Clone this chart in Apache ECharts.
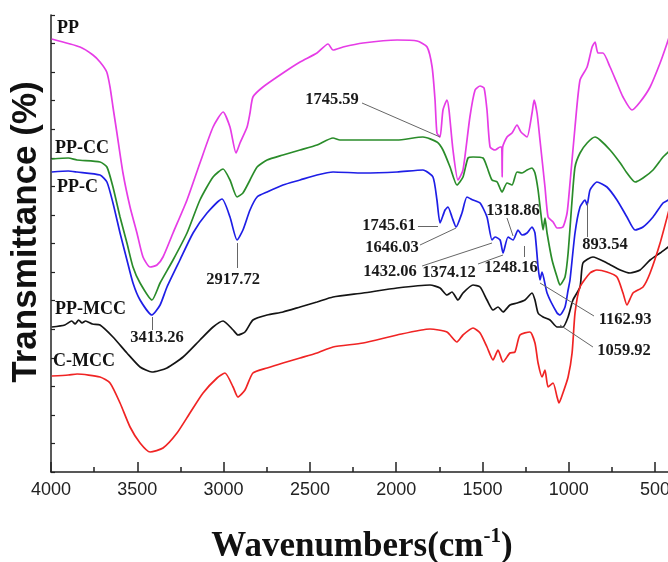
<!DOCTYPE html>
<html>
<head>
<meta charset="utf-8">
<script src="https://cdn.jsdelivr.net/npm/echarts@6/dist/echarts.min.js"></script>
<style>html,body{margin:0;padding:0;background:#fff;}#c{width:668px;height:562px;}</style>
</head>
<body>
<div id="c"></div>
<script>
// Wavenumber (cm-1) vs. transmittance (arbitrary offset units)
const seriesNames = ['PP', 'PP-CC', 'PP-C', 'PP-MCC', 'C-MCC'];

const ppData = [[3996,433],[3832,425],[3757,417],[3716,410],[3677,400],[3658,385],[3641,365],[3618,339],[3583,299],[3542,265],[3502,239],[3467,215],[3426,205],[3386,207],[3351,215],[3293,239],[3212,272],[3137,309],[3061,345],[3003,360],[2963,345],[2928,319],[2905,329],[2864,345],[2847,359],[2830,375],[2772,385],[2656,399],[2557,410],[2459,419],[2395,428],[2366,422],[2308,425],[2192,429],[1995,432],[1879,431],[1821,425],[1792,405],[1775,372],[1764,339],[1746,335],[1729,362],[1706,372],[1694,362],[1671,322],[1642,292],[1613,302],[1573,355],[1543,382],[1514,386],[1491,384],[1474,362],[1456,325],[1427,322],[1398,325],[1389,325],[1386,295],[1383,325],[1358,335],[1329,339],[1300,347],[1277,340],[1242,335],[1213,359],[1201,372],[1184,359],[1167,332],[1138,285],[1120,255],[1091,250],[1068,244],[1034,245],[1010,259],[993,289],[964,345],[935,392],[894,405],[865,425],[848,430],[831,419],[802,419],[761,405],[721,389],[686,375],[634,362],[587,370],[529,385],[471,409],[430,429],[400,445]];

const ppccData = [[3996,313],[3900,314],[3849,312],[3716,310],[3676,305],[3641,285],[3600,255],[3560,229],[3525,205],[3484,189],[3415,172],[3368,189],[3293,212],[3212,239],[3137,272],[3061,295],[3003,303],[2963,292],[2922,275],[2888,279],[2847,292],[2806,305],[2748,312],[2656,317],[2557,322],[2459,327],[2366,334],[2326,332],[2192,332],[1995,332],[1845,335],[1764,330],[1729,322],[1688,305],[1648,287],[1613,295],[1584,314],[1555,315],[1497,314],[1474,305],[1445,292],[1415,290],[1387,280],[1358,289],[1329,287],[1300,300],[1271,299],[1242,302],[1213,304],[1196,299],[1178,282],[1161,257],[1149,242],[1138,254],[1126,239],[1097,212],[1068,195],[1051,187],[1022,195],[1004,219],[981,272],[964,305],[935,319],[894,329],[848,335],[819,332],[761,322],[702,309],[663,299],[616,290],[570,294],[512,302],[454,315],[424,320],[400,325]];

const ppcData = [[3996,300],[3900,301],[3849,300],[3716,297],[3676,290],[3641,269],[3600,239],[3560,212],[3525,189],[3484,172],[3415,157],[3368,167],[3328,185],[3253,212],[3177,239],[3096,259],[3009,273],[2963,255],[2922,232],[2888,242],[2847,262],[2806,275],[2748,280],[2656,287],[2557,292],[2459,297],[2366,300],[2192,299],[1995,300],[1845,302],[1787,295],[1764,272],[1746,249],[1717,262],[1700,265],[1677,255],[1653,245],[1619,259],[1590,275],[1555,272],[1514,269],[1474,255],[1445,232],[1427,235],[1398,232],[1381,219],[1352,235],[1323,232],[1294,242],[1271,237],[1242,239],[1213,245],[1196,239],[1178,205],[1167,192],[1155,200],[1126,179],[1068,159],[1051,157],[1022,165],[1004,182],[993,192],[964,239],[935,265],[906,272],[894,267],[877,282],[837,290],[779,285],[721,272],[663,255],[616,242],[570,245],[512,255],[454,269],[424,272],[400,276]];

const ppmccData = [[3996,145],[3920,147],[3880,151],[3860,148],[3840,152],[3820,149],[3800,151],[3760,148],[3716,147],[3641,135],[3560,119],[3484,105],[3415,100],[3328,104],[3235,115],[3137,132],[3061,145],[3003,151],[2945,142],[2917,137],[2876,140],[2830,152],[2748,157],[2656,160],[2557,165],[2459,170],[2366,175],[2192,179],[1995,184],[1804,187],[1746,184],[1706,177],[1677,180],[1642,172],[1613,179],[1555,187],[1514,185],[1474,172],[1439,162],[1410,165],[1381,160],[1341,167],[1300,169],[1254,172],[1213,179],[1196,172],[1178,159],[1149,155],[1109,152],[1068,145],[1034,145],[1004,155],[976,172],[935,185],[918,209],[860,215],[779,209],[702,202],[645,199],[587,202],[529,212],[471,219],[424,225],[400,228]];

const cmccData = [[3996,96],[3900,97],[3849,98],[3716,95],[3658,89],[3600,69],[3542,45],[3484,29],[3426,20],[3351,24],[3270,39],[3195,59],[3119,79],[3038,94],[2992,99],[2945,85],[2917,75],[2876,82],[2830,99],[2748,104],[2656,109],[2557,114],[2459,119],[2366,125],[2192,129],[1995,137],[1804,143],[1706,140],[1648,130],[1613,137],[1555,144],[1514,139],[1474,125],[1439,112],[1410,122],[1381,110],[1341,119],[1312,120],[1283,137],[1225,140],[1196,129],[1178,109],[1155,95],[1138,102],[1120,85],[1091,89],[1068,75],[1057,69],[1034,79],[1004,95],[981,119],[964,159],[935,185],[877,199],[837,202],[779,200],[721,195],[686,179],[663,167],[628,179],[570,185],[529,199],[471,229],[424,259],[400,275]];

const seriesData = [ppData, ppccData, ppcData, ppmccData, cmccData];
const seriesColors = ['#e63ce6', '#2a8c2a', '#1e1ee6', '#141414', '#f02424'];

// series name labels (anchor = left edge of text)
const nameLabelPos = [[3965,444],[3977,324],[3965,285],[3977,163],[3988,111]];

// peak annotations
const annotTexts = ['1745.59','2917.72','3413.26','1745.61','1646.03','1318.86','1432.06','1374.12','1248.16','893.54','1162.93','1059.92'];
const annotTextPos = [[2372,372],[2945,192],[3386,134],[2042,246],[2024,224],[1323,261],[2036,200],[1694,199],[1335,204],[790,227],[674,152],[680,121]];
const annotFrom = [[2198,369],[2922,229],[3415,155],[1874,246],[1862,227],[1358,254],[1850,206],[1526,208],[1259,215],[894,269],[1167,189],[1051,147]];
const annotTo = [[1746,335],[2922,204],[3415,142],[1758,246],[1653,244],[1323,236],[1445,229],[1381,217],[1259,226],[894,235],[854,156],[860,125]];

const xTicks = { min: 0, max: 4000, step: 500 };
const yRange = { min: 0, max: 457, step: 457 / 16 };

const serif = '"Liberation Serif", "Times New Roman", serif';
const sans = '"Liberation Sans", Arial, sans-serif';

const chart = echarts.init(document.getElementById('c'), null, { renderer: 'canvas' });

const series = seriesNames.map((n, i) => ({
  name: n,
  type: 'line',
  data: seriesData[i],
  showSymbol: false,
  symbol: 'none',
  clip: false,
  smooth: 0.2,
  lineStyle: { color: seriesColors[i], width: 1.7 },
  itemStyle: { color: seriesColors[i] },
  z: 3
}));

series.push({
  name: 'annotations',
  type: 'line',
  data: [],
  symbol: 'none',
  z: 5,
  markLine: {
    silent: true,
    symbol: 'none',
    animation: false,
    label: { show: false },
    lineStyle: { color: '#666', width: 1, type: 'solid' },
    data: annotFrom.map((f, i) => [{ coord: f }, { coord: annotTo[i] }])
  },
  markPoint: {
    silent: true,
    symbol: 'circle',
    symbolSize: 0,
    animation: false,
    label: {
      show: true,
      position: 'inside',
      color: '#1a1a1a',
      fontFamily: serif,
      fontWeight: 'bold',
      fontSize: 16.5
    },
    data: annotTexts.map((t, i) => ({ coord: annotTextPos[i], value: t, label: { formatter: t } })).concat(
      seriesNames.map((n, i) => ({
        coord: nameLabelPos[i], value: n,
        label: { formatter: n, position: 'right', distance: 0, fontSize: 18, color: '#111' }
      }))
    )
  }
});

chart.setOption({
  animation: false,
  backgroundColor: '#ffffff',
  grid: { left: 51, top: 15, width: 690.4, height: 457, outerBoundsMode: 'none', containLabel: false },
  xAxis: {
    type: 'value',
    inverse: true,
    min: xTicks.min,
    max: xTicks.max,
    interval: xTicks.step,
    axisLine: { show: true, onZero: false, lineStyle: { color: '#222', width: 1.5 } },
    axisTick: { show: true, inside: true, length: 10, lineStyle: { color: '#222', width: 1.5 } },
    minorTick: { show: true, splitNumber: 2, length: 5, lineStyle: { color: '#222', width: 1.5 } },
    splitLine: { show: false },
    axisLabel: { show: true, margin: 9, color: '#222', fontFamily: sans, fontSize: 18,
      formatter: function (v) { return v === 0 ? '' : String(v); } }
  },
  yAxis: {
    type: 'value',
    min: yRange.min,
    max: yRange.max,
    interval: yRange.step,
    axisLine: { show: true, onZero: false, lineStyle: { color: '#222', width: 1.5 } },
    axisTick: { show: true, inside: true, length: 4, lineStyle: { color: '#222', width: 1.2 } },
    splitLine: { show: false },
    axisLabel: { show: false }
  },
  graphic: [
    {
      type: 'text',
      x: 362,
      y: 526,
      style: {
        text: '{m|Wavenumbers(cm}{s|-1}{m|)}',
        align: 'center',
        rich: {
          m: { fontFamily: serif, fontWeight: 'bold', fontSize: 35, fill: '#111', lineHeight: 38, verticalAlign: 'bottom' },
          s: { fontFamily: serif, fontWeight: 'bold', fontSize: 21, fill: '#111', lineHeight: 38, verticalAlign: 'top' }
        }
      }
    },
    {
      type: 'text',
      x: 26,
      y: 232,
      rotation: Math.PI / 2,
      style: {
        text: 'Transmittance (%)',
        font: 'bold 35px ' + sans,
        fill: '#111',
        align: 'center',
        verticalAlign: 'middle'
      }
    }
  ],
  series: series
});
</script>
</body>
</html>
